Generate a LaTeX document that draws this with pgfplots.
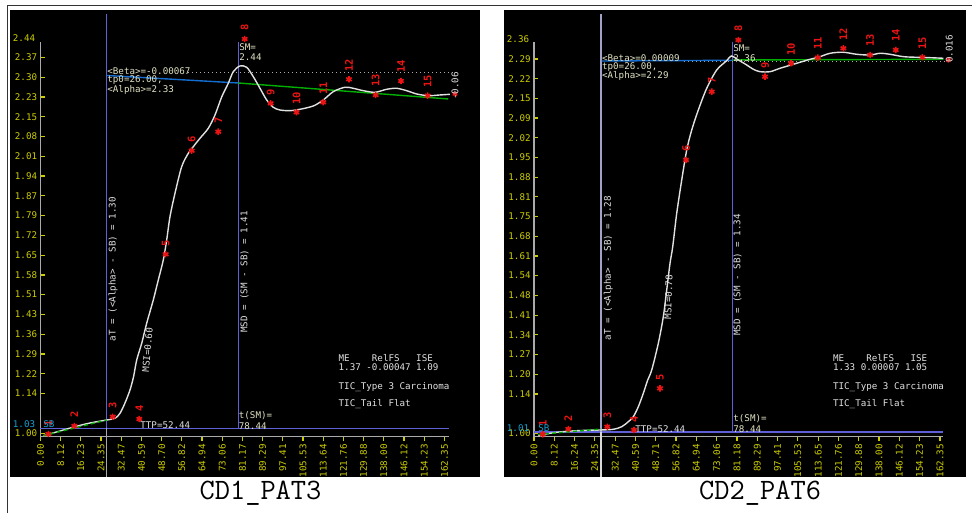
\documentclass[border=0pt]{standalone}
\usepackage{fontspec}
\newfontfamily\chartfont{DejaVu Sans Mono}
\usepackage{pgfplots}
\pgfplotsset{compat=1.18}

\definecolor{tickyel}{RGB}{205,205,0}
\definecolor{axgrey}{RGB}{170,170,170}
\definecolor{vblue}{RGB}{95,95,215}
\definecolor{betablue}{RGB}{20,110,210}
\definecolor{fitgreen}{RGB}{0,175,0}
\definecolor{curvewhite}{RGB}{225,225,225}
\definecolor{ptred}{RGB}{235,20,20}
\definecolor{txtbeige}{RGB}{225,225,195}
\definecolor{txtwhite}{RGB}{225,225,225}
\definecolor{sbcyan}{RGB}{20,160,210}

\newcommand\cf{\chartfont\fontsize{4.6}{5.5}\selectfont}
\newcommand\rf{\chartfont\bfseries\fontsize{5.2}{6}\selectfont}
% pixel position of the reference (x from left, y from top) -> picture coordinates
\newcommand\pxy[2]{({#1*0.5pt},{(513-#2)*0.5pt})}

\pgfplotsset{
  ticpanel/.style={
    scale only axis, anchor=south west, clip=false,
    height=197.5pt, xmin=0,
    axis x line*=bottom, axis y line*=left,
    axis line style={axgrey,line width=0.6pt,-},
    xtick align=outside, ytick align=inside,
    major tick length=2pt,
    tick style={tickyel,line width=0.6pt},
    tick label style={font=\cf,text=tickyel},
    xticklabel style={rotate=90,anchor=east,inner sep=1.5pt},
    yticklabel style={inner sep=1.5pt},
    xtick={0,8.1175,16.235,24.3525,32.47,40.5875,48.705,56.8225,64.94,73.0575,81.175,89.2925,97.41,105.5275,113.645,121.7625,129.88,137.9975,146.115,154.2325,162.35},
  },
  ticcurve/.style={curvewhite,line width=0.7pt,smooth,tension=0.5},
  ticstars/.style={only marks,mark=asterisk,mark size=1.6pt,ptred,line width=0.8pt,
    point meta=explicit symbolic,nodes near coords,
    every node near coord/.append style={rotate=90,anchor=west,inner sep=0pt,outer sep=4pt,font=\rf,text=ptred}},
}

\begin{document}
\begin{tikzpicture}
\useasboundingbox (0,0) rectangle (486pt,256.5pt);
\fill[white] (0,0) rectangle (486pt,256.5pt);
\fill[black] \pxy{10}{477} rectangle \pxy{480}{10};
\fill[black] \pxy{504}{477} rectangle \pxy{966}{10};
\draw[black!80,line width=0.5pt] \pxy{7}{513} -- \pxy{7}{6} -- \pxy{972}{6};

% ---------------- CD1_PAT3 ----------------
\begin{axis}[ticpanel,
  at={(20.25pt,38.15pt)}, width=204.25pt,
  xmax=164.2, ymin=0.9869, ymax=2.4253,
  xticklabels={0.00,8.12,16.23,24.35,32.47,40.59,48.70,56.82,64.94,73.06,81.17,89.29,97.41,105.53,113.64,121.76,129.88,138.00,146.12,154.23,162.35},
  ytick={1.00,1.144,1.216,1.288,1.36,1.432,1.504,1.576,1.648,1.72,1.792,1.864,1.936,2.008,2.08,2.152,2.224,2.296,2.368},
  yticklabels={1.00,1.14,1.22,1.29,1.36,1.43,1.51,1.58,1.65,1.72,1.79,1.87,1.94,2.01,2.08,2.15,2.23,2.30,2.37},
]
\addplot[vblue,line width=0.6pt] coordinates {(0,1.0175)(164.2,1.0175)};
\addplot[vblue,line width=0.6pt] coordinates {(26.61,2.5262)(26.61,1.0175)};
\addplot[axgrey,line width=0.6pt] coordinates {(26.61,1.0175)(26.61,0.8401)};
\addplot[vblue,line width=0.6pt] coordinates {(79.50,2.4243)(79.50,1.0175)};
\addplot[axgrey,line width=0.6pt,dash pattern=on 0.5pt off 1.5pt] coordinates {(59.28,2.3132)(167.0,2.3132)};
\addplot[betablue,line width=0.7pt] coordinates {(26.61,2.3023)(79.50,2.2749)};
\addplot[fitgreen,line width=0.7pt] coordinates {(79.50,2.2749)(163.90,2.2167)};
\addplot[ticcurve] coordinates {(1.13,0.9905)(7.84,1.0076)(13.87,1.0233)(19.90,1.0368)(26.61,1.0477)(29.94,1.0539)(31.95,1.0721)(33.96,1.1096)(35.97,1.1570)(37.38,1.2043)(38.67,1.2662)(40.68,1.3270)(42.68,1.3999)(45.34,1.4847)(47.35,1.5575)(49.36,1.6304)(50.72,1.7032)(52.05,1.7881)(54.06,1.8733)(56.75,1.9701)(59.41,2.0189)(61.41,2.0430)(64.11,2.0736)(67.44,2.1100)(70.14,2.1584)(72.83,2.2240)(75.48,2.2738)(77.49,2.3161)(80.18,2.3369)(82.88,2.3321)(85.53,2.2979)(88.23,2.2556)(90.92,2.2130)(93.57,2.1864)(96.26,2.1766)(100.28,2.1741)(104.30,2.1792)(109.65,2.1912)(113.67,2.2130)(117.68,2.2433)(122.39,2.2593)(125.72,2.2556)(129.74,2.2469)(134.44,2.2411)(139.15,2.2520)(143.17,2.2556)(147.19,2.2469)(151.21,2.2349)(155.87,2.2287)(160.57,2.2313)(164.59,2.2338)};
\addplot[fitgreen,line width=0.7pt,dash pattern=on 2pt off 1.5pt] coordinates {(1.13,0.9905)(26.61,1.0477)};
\addplot[ticstars] coordinates {(3.14,0.9967)[1](13.59,1.0259)[2](29.02,1.0597)[3](39.71,1.0513)[4](50.32,1.6511)[5](60.77,2.0284)[6](71.46,2.0976)[7](82.07,2.4352)[8](92.52,2.2010)[9](102.89,2.1682)[10](113.67,2.2047)[11](123.99,2.2884)[12](134.73,2.2312)[13](144.90,2.2822)[14](155.63,2.2287)[15]};
\addplot[only marks,mark=asterisk,mark size=1.3pt,ptred,line width=0.7pt] coordinates {(166.6,2.2349)};
\end{axis}

% ---------------- CD2_PAT6 ----------------
\begin{axis}[ticpanel,
  at={(267pt,38.15pt)}, width=204.65pt,
  xmax=163.7, ymin=0.9883, ymax=2.3517,
  xticklabels={0.00,8.12,16.24,24.35,32.47,40.59,48.71,56.82,64.94,73.06,81.18,89.29,97.41,105.53,113.65,121.76,129.88,138.00,146.12,154.23,162.35},
  ytick={1.00,1.136,1.204,1.272,1.34,1.408,1.476,1.544,1.612,1.68,1.748,1.816,1.884,1.952,2.02,2.088,2.156,2.224,2.292},
  yticklabels={1.00,1.14,1.20,1.27,1.34,1.41,1.48,1.54,1.61,1.68,1.75,1.81,1.88,1.95,2.02,2.09,2.15,2.22,2.29},
]
\addplot[vblue,line width=0.6pt] coordinates {(0,1.0045)(163.7,1.0045)};
\addplot[black!25!white!85!blue,line width=0.6pt] coordinates {(26.8,2.4470)(26.8,1.0045)};
\addplot[white!85!black,line width=0.6pt] coordinates {(26.8,1.0045)(26.8,0.8495)};
\addplot[vblue,line width=0.6pt] coordinates {(79.48,2.3517)(79.48,1.0045)};
\addplot[axgrey,line width=0.6pt,dash pattern=on 0.5pt off 1.5pt] coordinates {(60.0,2.2827)(165.6,2.2827)};
\addplot[betablue,line width=0.7pt] coordinates {(27.08,2.2851)(79.48,2.2875)};
\addplot[fitgreen,line width=0.7pt] coordinates {(79.48,2.2886)(163.72,2.2910)};
\addplot[ticcurve] coordinates {(1.72,0.9917)(6.4,1.0000)(13.08,1.0069)(21.08,1.0104)(26.4,1.0114)(31.72,1.0138)(35.08,1.0228)(37.72,1.0400)(39.72,1.0573)(41.72,1.0918)(43.72,1.1381)(45.48,1.1840)(47.08,1.2185)(49.72,1.3107)(51.72,1.4025)(53.08,1.4946)(54.4,1.5868)(55.48,1.6441)(57.08,1.7594)(59.08,1.8744)(61.08,1.9779)(63.08,2.0469)(65.72,2.1160)(69.08,2.1909)(73.08,2.2541)(77.08,2.2862)(78.9,2.3024)(81.72,2.2886)(85.08,2.2713)(87.72,2.2565)(90.4,2.2482)(94.4,2.2482)(98.4,2.2599)(105.08,2.2772)(110.4,2.2910)(113.72,2.2979)(118.4,2.3117)(123.72,2.3152)(129.08,2.3082)(134.4,2.3058)(138.4,2.3117)(142.4,2.3082)(147.72,2.3000)(153.08,2.2979)(158.4,2.2965)(163.72,2.2945)};
\addplot[fitgreen,line width=0.7pt,dash pattern=on 2pt off 1.5pt] coordinates {(1.6,0.9959)(26.8,1.0148)};
\addplot[ticstars] coordinates {(3.48,0.9965)[1](13.72,1.0148)[2](29.32,1.0228)[3](40.0,1.0114)[4](50.4,1.1553)[5](60.8,1.9434)[6](71.08,2.1791)[7](81.72,2.3576)[8](92.4,2.2309)[9](102.8,2.2772)[10](113.48,2.2965)[11](123.72,2.3290)[12](134.4,2.3058)[13](144.68,2.3231)[14](155.32,2.2979)[15]};
\addplot[only marks,mark=asterisk,mark size=1.3pt,ptred,line width=0.7pt] coordinates {(165.72,2.2886)};
\end{axis}

% ---------------- annotations, left ----------------
\begin{scope}[every node/.style={font=\cf,inner sep=0pt}]
\node[anchor=east,text=tickyel] at \pxy{35.5}{37.7} {2.44};
\node[anchor=east,text=sbcyan] at \pxy{35.5}{424.3} {1.03};
\node[anchor=west,text=sbcyan] at \pxy{43}{424.3} {SB};
\node[anchor=west,text=txtbeige] at \pxy{107}{71} {<Beta>=-0.00067};
\node[anchor=west,text=txtbeige] at \pxy{107}{80.5} {tp0=26.00,};
\node[anchor=west,text=txtbeige] at \pxy{107}{90} {<Alpha>=2.33};
\node[anchor=west,text=txtbeige] at \pxy{239}{47.3} {SM=};
\node[anchor=west,text=txtbeige] at \pxy{239}{56.7} {2.44};
\node[anchor=west,text=txtwhite] at \pxy{140}{425} {TTP=52.44};
\node[anchor=west,text=txtbeige] at \pxy{238.5}{415.7} {t(SM)=};
\node[anchor=west,text=txtbeige] at \pxy{238.5}{425.7} {78.44};
\node[anchor=west,text=txtwhite] at \pxy{338.3}{358.3} {ME\ \ \ \ RelFS\ \ \ ISE};
\node[anchor=west,text=txtwhite] at \pxy{338.3}{367.3} {1.37 -0.00047 1.09};
\node[anchor=west,text=txtwhite] at \pxy{338.3}{386.7} {TIC\_Type 3 Carcinoma};
\node[anchor=west,text=txtwhite] at \pxy{338.3}{404.3} {TIC\_Tail Flat};
\node[rotate=90,text=txtwhite] at \pxy{113}{269} {aT = (<Alpha> - SB) = 1.30};
\node[rotate=90,text=txtwhite] at \pxy{244.5}{272} {MSD = (SM - SB) = 1.41};
\node[rotate=85,text=txtwhite] at \pxy{147.5}{350} {MSI=0.60};
\node[rotate=90,text=txtwhite] at \pxy{455}{86} {-0.06};
% ---------------- annotations, right ----------------
\node[anchor=east,text=tickyel] at \pxy{529.5}{39.3} {2.36};
\node[anchor=east,text=sbcyan] at \pxy{529.5}{428} {1.01};
\node[anchor=west,text=sbcyan] at \pxy{538}{428.5} {SB};
\node[anchor=west,text=txtbeige] at \pxy{601.7}{58.3} {<Beta>=0.00009};
\node[anchor=west,text=txtbeige] at \pxy{601.7}{66.7} {tp0=26.00,};
\node[anchor=west,text=txtbeige] at \pxy{601.7}{76} {<Alpha>=2.29};
\node[anchor=west,text=txtbeige] at \pxy{733}{48.3} {SM=};
\node[anchor=west,text=txtbeige] at \pxy{733}{57.7} {2.36};
\node[anchor=west,text=txtwhite] at \pxy{635}{429.3} {TTP=52.44};
\node[anchor=west,text=txtbeige] at \pxy{733}{419} {t(SM)=};
\node[anchor=west,text=txtbeige] at \pxy{733}{429} {78.44};
\node[anchor=west,text=txtwhite] at \pxy{832.7}{358.3} {ME\ \ \ \ RelFS\ \ \ ISE};
\node[anchor=west,text=txtwhite] at \pxy{832.7}{367.3} {1.33 0.00007 1.05};
\node[anchor=west,text=txtwhite] at \pxy{832.7}{386.7} {TIC\_Type 3 Carcinoma};
\node[anchor=west,text=txtwhite] at \pxy{832.7}{404.3} {TIC\_Tail Flat};
\node[rotate=90,text=txtwhite] at \pxy{608.3}{268} {aT = (<Alpha> - SB) = 1.28};
\node[rotate=90,text=txtwhite] at \pxy{737.5}{275} {MSD = (SM - SB) = 1.34};
\node[rotate=88,text=txtwhite] at \pxy{668.5}{297} {MSI=0.78};
\node[rotate=90,text=txtwhite] at \pxy{949.3}{49} {0.016};
\end{scope}

\node[font=\ttfamily\fontsize{14.8}{16}\selectfont,inner sep=0pt] at \pxy{260.5}{493} {CD1\_PAT3};
\node[font=\ttfamily\fontsize{14.8}{16}\selectfont,inner sep=0pt] at \pxy{760}{493} {CD2\_PAT6};
\end{tikzpicture}
\end{document}
